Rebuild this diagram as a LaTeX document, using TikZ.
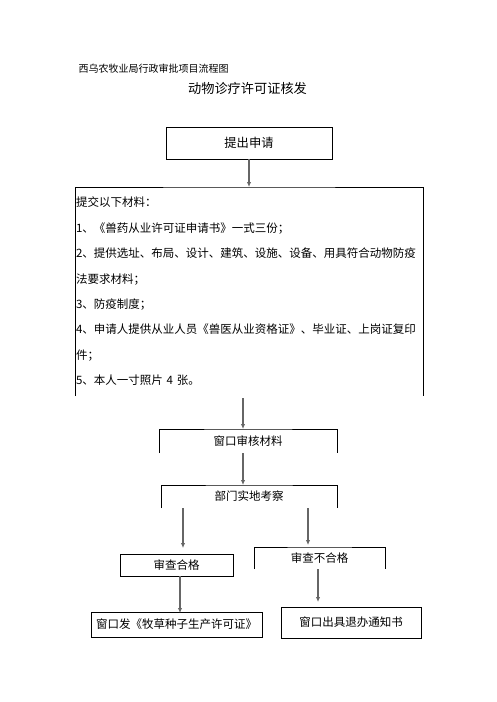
\documentclass[tikz,border=0pt]{standalone}
\usepackage{fontspec}
\setmainfont{Noto Sans CJK SC}
\usetikzlibrary{arrows.meta}
\begin{document}
\begin{tikzpicture}
  [x=1pt,y=-1pt,
   box/.style={rectangle,draw=black,line width=0.8pt,align=center,
               outer sep=0,inner sep=0,font=\fontsize{11.5}{14}\selectfont},
   openbox/.style={rectangle,align=center,outer sep=0,inner sep=0,
                   font=\fontsize{11.5}{14}\selectfont},
   edge/.style={draw=black,line width=0.8pt},
   flow/.style={draw=black!60,line width=1.1pt,
                -{Latex[length=5pt,width=4.5pt,fill=black!80]}}]
  \useasboundingbox (0,0) rectangle (496,702);
  \node[anchor=west,font=\fontsize{10}{12}\selectfont] (office) at (75,69) {西乌农牧业局行政审批项目流程图};
  \node[font=\fontsize{13.2}{15}\selectfont] (title) at (247.5,88) {动物诊疗许可证核发};
  \node[box,minimum width=166,minimum height=32,font=\fontsize{12.3}{14}\selectfont] (apply) at (249,143) {提出申请};
  \node[openbox,minimum width=348,minimum height=209,text width=346,inner xsep=1pt,align=left,
        font=\fontsize{11.5}{25.4}\selectfont] (materials) at (249,291.5)
    {提交以下材料：\\
     1、《兽药从业许可证申请书》一式三份；\\
     2、提供选址、布局、设计、建筑、设施、设备、用具符合动物防疫\\
     法要求材料；\\
     3、防疫制度；\\
     4、申请人提供从业人员《兽医从业资格证》、毕业证、上岗证复印\\
     件；\\
     5、本人一寸照片 4 张。};
  \node[openbox,minimum width=178,minimum height=24] (review) at (248,441) {窗口审核材料};
  \node[openbox,minimum width=176,minimum height=23] (survey) at (249,496.5) {部门实地考察};
  \node[box,minimum width=113,minimum height=22] (pass) at (176.5,565) {审查合格};
  \node[openbox,minimum width=131,minimum height=22] (fail) at (319.5,558) {审查不合格};
  \node[box,minimum width=171,minimum height=25] (issue) at (176.5,624.5) {窗口发《牧草种子生产许可证》};
  \node[box,minimum width=140,minimum height=31] (notice) at (351,622.5) {窗口出具退办通知书};
  % open boxes
  \draw[edge] (materials.south west) |- (materials.north) -| (materials.south east);
  \draw[edge] (review.south west) |- (review.north) -| (review.south east);
  \draw[edge] (survey.south west) |- (survey.north) -| (survey.south east);
  \draw[edge] (fail.south west) |- (fail.north) -| (fail.south east);
  % arrows
  \draw[flow] (apply.south) -- (apply.south |- materials.north);
  \draw[flow] ([xshift=-5pt,yshift=-2pt]review.north |- materials.south) -- ([xshift=-5pt]review.north);
  \draw[flow] ([xshift=-5pt]review.south) -- ([xshift=-6pt]survey.north);
  \draw[flow] ([xshift=6.5pt]pass.north |- survey.south) -- ([xshift=6.5pt,yshift=6pt]pass.north);
  \draw[flow] ([xshift=-11.5pt]fail.north |- survey.south) -- ([xshift=-11.5pt,yshift=2pt]fail.north);
  \draw[flow] ([xshift=3.5pt]pass.south) -- ([xshift=3.5pt,yshift=-1pt]issue.north);
  \draw[flow] ([xshift=-1.5pt]fail.south) -- ([xshift=-1.5pt,yshift=5pt]fail.south |- notice.north);
\end{tikzpicture}
\end{document}
